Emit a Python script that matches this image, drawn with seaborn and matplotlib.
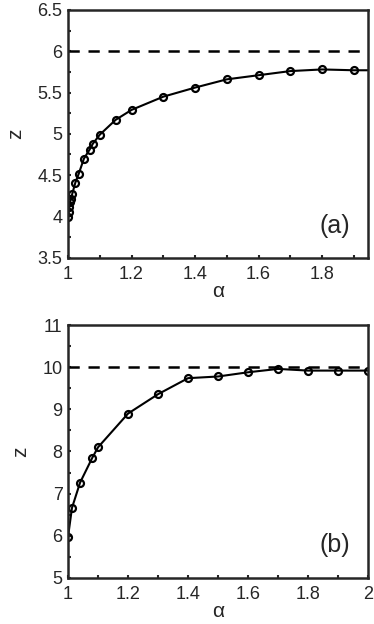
import numpy as np
import seaborn as sns
import matplotlib.pyplot as plt
from matplotlib.ticker import MultipleLocator

# panel (a)
alpha_a = [1.0, 1.002, 1.004, 1.006, 1.009, 1.013, 1.023, 1.033, 1.05, 1.068, 1.078,
           1.1, 1.15, 1.2, 1.3, 1.4, 1.5, 1.6, 1.7, 1.8, 1.9, 2.0]
z_a = [3.99, 4.05, 4.11, 4.17, 4.21, 4.27, 4.41, 4.51, 4.70, 4.81, 4.88,
       4.99, 5.17, 5.29, 5.45, 5.56, 5.66, 5.71, 5.76, 5.78, 5.77, 5.77]
limit_a = 6

# panel (b)
alpha_b = [1.0, 1.013, 1.04, 1.08, 1.1, 1.2, 1.3, 1.4, 1.5, 1.6, 1.7, 1.8, 1.9, 2.0]
z_b = [5.98, 6.66, 7.26, 7.84, 8.10, 8.90, 9.36, 9.74, 9.78, 9.88, 9.96, 9.92, 9.92, 9.92]
limit_b = 10

sns.set_style('ticks')
plt.rcParams['font.family'] = ['Liberation Sans', 'DejaVu Sans']

fig = plt.figure(figsize=(3.74, 6.24), dpi=100)
ax1 = fig.add_axes([0.182, 0.587, 0.802, 0.397])
ax2 = fig.add_axes([0.182, 0.074, 0.802, 0.405])


def draw(ax, x, y, lim, xlim, ylim, ymajor, yminor, tag):
    ax.axhline(lim, color='k', lw=1.8, ls=(0, (4.5, 3.5)), zorder=1)
    sns.lineplot(x=x, y=y, ax=ax, color='k', lw=1.5, marker='o', ms=5,
                 mfc='none', mec='k', mew=1.6, sort=False)
    ax.set_xlim(*xlim)
    ax.set_ylim(*ylim)
    ax.xaxis.set_major_locator(MultipleLocator(0.2))
    ax.xaxis.set_minor_locator(MultipleLocator(0.1))
    ax.yaxis.set_major_locator(MultipleLocator(ymajor))
    ax.yaxis.set_minor_locator(MultipleLocator(yminor))
    ax.xaxis.set_major_formatter(plt.FuncFormatter(lambda v, p: f'{v:g}'))
    ax.yaxis.set_major_formatter(plt.FuncFormatter(lambda v, p: f'{v:g}'))
    ax.tick_params(which='both', direction='in', length=2.5, width=1.5,
                   labelsize=13, pad=4)
    ax.tick_params(axis='x', pad=6)
    for s in ax.spines.values():
        s.set_linewidth(1.8)
    ax.set_xlabel('α', fontsize=15, labelpad=-1)
    ax.set_ylabel('z', fontsize=15, labelpad=9)
    ax.text(0.89, 0.13, tag, transform=ax.transAxes, fontsize=18,
            ha='center', va='center')


draw(ax1, alpha_a, z_a, limit_a, (1, 1.945), (3.5, 6.5), 0.5, 0.25, '(a)')
draw(ax2, alpha_b, z_b, limit_b, (1, 2), (5, 11), 1, 0.5, '(b)')

fig.savefig('out.png', dpi=100)
